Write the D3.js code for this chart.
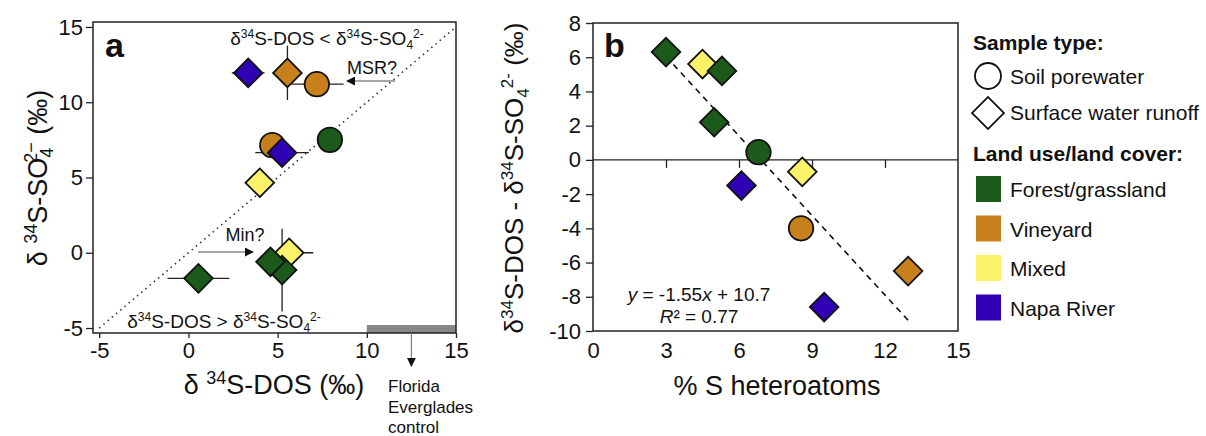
<!DOCTYPE html>
<html>
<head>
<meta charset="utf-8">
<script src="https://cdn.jsdelivr.net/npm/d3@7"></script>
<style>
  body { margin: 0; background: #fff; }
  text { font-family: "Liberation Sans", Arial, sans-serif; fill: #111; }
</style>
</head>
<body>
<div id="chart"></div>
<script>
// panel a data
const aX    = [3.35, 5.55, 7.2, 4.7, 5.25, 7.93, 4.0, 0.56, 5.65, 5.25, 4.6];
const aY    = [11.95, 11.95, 11.2, 7.15, 6.65, 7.5, 4.65, -1.7, 0.0, -1.15, -0.6];
const aXerr = [0.92, 0, 1.5, 0, 1.5, 0, 0, 1.73, 1.35, 0.85, 0];
const aYerr = [0, 1.8, 0, 0, 0, 0, 0, 0, 0, 2.75, 0];
const aType = ['surface', 'surface', 'soil', 'soil', 'surface', 'soil', 'surface', 'surface', 'surface', 'surface', 'surface'];
const aLand = ['napa', 'vineyard', 'vineyard', 'vineyard', 'napa', 'forest', 'mixed', 'forest', 'mixed', 'forest', 'forest'];
const evergladesRange = [10, 15];

// panel b data
const bX    = [3.0, 4.5, 5.3, 4.98, 6.8, 8.6, 6.1, 8.55, 12.95, 9.5];
const bY    = [6.3, 5.6, 5.2, 2.2, 0.45, -0.7, -1.5, -4.0, -6.5, -8.6];
const bType = ['surface', 'surface', 'surface', 'surface', 'soil', 'surface', 'surface', 'soil', 'surface', 'surface'];
const bLand = ['forest', 'mixed', 'forest', 'forest', 'forest', 'mixed', 'napa', 'vineyard', 'vineyard', 'napa'];
const fitSlope = -1.55, fitIntercept = 10.7, fitR2 = 0.77;
const fitRange = [3.0, 12.95];

const aTicks = [-5, 0, 5, 10, 15];
const bXTicks = [0, 3, 6, 9, 12, 15];
const bYTicks = [-10, -8, -6, -4, -2, 0, 2, 4, 6, 8];

const landKeys = ['forest', 'vineyard', 'mixed', 'napa'];
const landNames = ['Forest/grassland', 'Vineyard', 'Mixed', 'Napa River'];
const landColors = ['#1b5a1b', '#c7801b', '#faf36a', '#3000b4'];
const color = d3.scaleOrdinal().domain(landKeys).range(landColors);

const svg = d3.select('#chart').append('svg')
    .attr('width', 1206)
    .attr('height', 436);

// arrow heads
const defs = svg.append('defs');
defs.append('marker')
    .attr('id', 'head')
    .attr('viewBox', '0 0 10 10')
    .attr('refX', 9).attr('refY', 5)
    .attr('markerWidth', 9).attr('markerHeight', 9)
    .attr('markerUnits', 'userSpaceOnUse')
    .attr('orient', 'auto')
    .append('path').attr('d', 'M0,0 L10,5 L0,10 Z').attr('fill', '#111');

const diamond = d3.symbol().type(d3.symbolSquare).size(410);
const disc = d3.symbol().type(d3.symbolCircle).size(470);

function drawMark(g, type, land, x, y) {
    g.append('path')
        .attr('d', type === 'soil' ? disc() : diamond())
        .attr('transform', `translate(${x},${y})` + (type === 'soil' ? '' : ' rotate(45)'))
        .attr('fill', color(land))
        .attr('stroke', '#111')
        .attr('stroke-width', 1.8);
}

// rich text helper: parts = [text, mode, dx] where mode '' | 'sup' | 'sub'
function rich(sel, parts, size) {
    const small = Math.round(size * 0.65);
    let shift = 0;
    parts.forEach(([t, mode, dx]) => {
        const target = mode === 'sup' ? -size * 0.38 : mode === 'sub' ? size * 0.22 : 0;
        sel.append('tspan')
            .attr('dy', target - shift)
            .attr('dx', dx || 0)
            .style('font-size', (mode ? small : size) + 'px')
            .text(t);
        shift = target;
    });
}

function styleAxis(ax) {
    ax.select('.domain').remove();
    ax.selectAll('.tick line').attr('stroke', '#222').attr('stroke-width', 1.3);
    ax.selectAll('.tick text').style('font-size', '22px').attr('fill', '#111')
        .style('font-family', '"Liberation Sans", Arial, sans-serif');
}

// ---------------- panel a ----------------
const xa = d3.scaleLinear().domain([-5.35, 15]).range([93, 456]);
const ya = d3.scaleLinear().domain([-5.33, 15.33]).range([333, 22]);
const ga = svg.append('g');

ga.append('line')
    .attr('x1', xa(-5)).attr('y1', ya(-5))
    .attr('x2', xa(15)).attr('y2', ya(15))
    .attr('stroke', '#333').attr('stroke-width', 1.6)
    .attr('stroke-dasharray', '1.5,4');

ga.append('rect')
    .attr('x', xa(evergladesRange[0])).attr('y', 325)
    .attr('width', xa(evergladesRange[1]) - xa(evergladesRange[0])).attr('height', 8)
    .attr('fill', '#888');

ga.append('rect')
    .attr('x', 93).attr('y', 22).attr('width', 363).attr('height', 311)
    .attr('fill', 'none').attr('stroke', '#222').attr('stroke-width', 1.5);

styleAxis(ga.append('g').attr('transform', 'translate(93,0)')
    .call(d3.axisLeft(ya).tickValues(aTicks).tickFormat(d => String(d)).tickSize(7).tickPadding(3)));
styleAxis(ga.append('g').attr('transform', 'translate(0,333)')
    .call(d3.axisBottom(xa).tickValues(aTicks).tickFormat(d => String(d)).tickSize(5).tickPadding(4)));

// error bars
aX.forEach((x, i) => {
    if (aXerr[i] > 0) ga.append('line')
        .attr('x1', xa(x - aXerr[i])).attr('x2', xa(x + aXerr[i]))
        .attr('y1', ya(aY[i])).attr('y2', ya(aY[i]))
        .attr('stroke', '#222').attr('stroke-width', 1.3);
    if (aYerr[i] > 0) ga.append('line')
        .attr('x1', xa(x)).attr('x2', xa(x))
        .attr('y1', ya(aY[i] - aYerr[i])).attr('y2', ya(aY[i] + aYerr[i]))
        .attr('stroke', '#222').attr('stroke-width', 1.3);
});
aX.forEach((x, i) => drawMark(ga, aType[i], aLand[i], xa(x), ya(aY[i])));

ga.append('text').attr('x', 105).attr('y', 57)
    .style('font-size', '34px').style('font-weight', 'bold').text('a');

rich(ga.append('text').attr('x', 327).attr('y', 45).attr('text-anchor', 'middle'),
    [['δ', ''], ['34', 'sup'], ['S-DOS < δ', ''], ['34', 'sup'], ['S-SO', ''], ['4', 'sub'], ['2-', 'sup']], 19);
rich(ga.append('text').attr('x', 224).attr('y', 328).attr('text-anchor', 'middle'),
    [['δ', ''], ['34', 'sup'], ['S-DOS > δ', ''], ['34', 'sup'], ['S-SO', ''], ['4', 'sub'], ['2-', 'sup']], 19);

// MSR? / Min? annotations
ga.append('text').attr('x', 372).attr('y', 74).attr('text-anchor', 'middle')
    .style('font-size', '18px').text('MSR?');
ga.append('line').attr('x1', 395).attr('y1', 81).attr('x2', 347).attr('y2', 81)
    .attr('stroke', '#888').attr('stroke-width', 1.3).attr('marker-end', 'url(#head)');
ga.append('text').attr('x', 245).attr('y', 241).attr('text-anchor', 'middle')
    .style('font-size', '18px').text('Min?');
ga.append('line').attr('x1', 198).attr('y1', 252).attr('x2', 253).attr('y2', 252)
    .attr('stroke', '#888').attr('stroke-width', 1.3).attr('marker-end', 'url(#head)');

// Everglades control
const evx = xa((evergladesRange[0] + evergladesRange[1]) / 2);
ga.append('line').attr('x1', evx).attr('y1', 333).attr('x2', evx).attr('y2', 366)
    .attr('stroke', '#888').attr('stroke-width', 1.3).attr('marker-end', 'url(#head)');
['Florida', 'Everglades', 'control'].forEach((t, i) => {
    ga.append('text').attr('x', 388).attr('y', 392 + i * 20.5)
        .style('font-size', '17px').text(t);
});

// axis labels a
rich(ga.append('text').attr('x', 274).attr('y', 394).attr('text-anchor', 'middle'),
    [['δ ', ''], ['34', 'sup'], ['S-DOS (‰)', '']], 27);
rich(ga.append('text').attr('transform', 'translate(47,178) rotate(-90)').attr('text-anchor', 'middle'),
    [['δ ', ''], ['34', 'sup'], ['S-SO', ''], ['4', 'sub'], ['2', 'sup', -15], ['−', 'sup'], [' (‰)', '']], 27);

// ---------------- panel b ----------------
const xb = d3.scaleLinear().domain([0, 15]).range([593, 958]);
const yb = d3.scaleLinear().domain([-10, 8]).range([331, 23]);
const gb = svg.append('g');

gb.append('rect')
    .attr('x', 593).attr('y', 23).attr('width', 365).attr('height', 308)
    .attr('fill', 'none').attr('stroke', '#222').attr('stroke-width', 1.5);
gb.append('line')
    .attr('x1', 593).attr('x2', 958).attr('y1', yb(0)).attr('y2', yb(0))
    .attr('stroke', '#222').attr('stroke-width', 1.3);

styleAxis(gb.append('g').attr('transform', 'translate(593,0)')
    .call(d3.axisLeft(yb).tickValues(bYTicks).tickFormat(d => String(d)).tickSize(7).tickPadding(5)));
styleAxis(gb.append('g').attr('transform', 'translate(0,331)')
    .call(d3.axisBottom(xb).tickValues(bXTicks).tickFormat(d => String(d)).tickSize(0).tickPadding(11)));
styleAxis(gb.append('g').attr('transform', `translate(0,${yb(0)})`)
    .call(d3.axisBottom(xb).tickValues(bXTicks.slice(1, -1)).tickSize(8).tickFormat('')));

gb.append('line')
    .attr('x1', xb(fitRange[0])).attr('y1', yb(fitSlope * fitRange[0] + fitIntercept))
    .attr('x2', xb(fitRange[1])).attr('y2', yb(fitSlope * fitRange[1] + fitIntercept))
    .attr('stroke', '#111').attr('stroke-width', 1.6).attr('stroke-dasharray', '6,5');

bX.forEach((x, i) => drawMark(gb, bType[i], bLand[i], xb(x), yb(bY[i])));

gb.append('text').attr('x', 604).attr('y', 57)
    .style('font-size', '34px').style('font-weight', 'bold').text('b');

const eq = gb.append('text').attr('x', 699).attr('y', 301).attr('text-anchor', 'middle').style('font-size', '19px');
eq.append('tspan').style('font-style', 'italic').text('y');
eq.append('tspan').text(` = ${fitSlope}`);
eq.append('tspan').style('font-style', 'italic').text('x');
eq.append('tspan').text(` + ${fitIntercept}`);
const r2 = gb.append('text').attr('x', 699).attr('y', 323).attr('text-anchor', 'middle').style('font-size', '19px');
r2.append('tspan').style('font-style', 'italic').text('R');
r2.append('tspan').text(`² = ${fitR2}`);

gb.append('text').attr('x', 777).attr('y', 395).attr('text-anchor', 'middle')
    .style('font-size', '27px').text('% S heteroatoms');
rich(gb.append('text').attr('transform', 'translate(523,178) rotate(-90)').attr('text-anchor', 'middle'),
    [['δ', ''], ['34', 'sup'], ['S-DOS - δ', ''], ['34', 'sup'], ['S-SO', ''], ['4', 'sub'], ['2-', 'sup'], [' (‰)', '']], 26);

// ---------------- legend ----------------
const lg = svg.append('g');
lg.append('text').attr('x', 973).attr('y', 50).style('font-size', '21px').style('font-weight', 'bold').text('Sample type:');
lg.append('path').attr('d', d3.symbol().type(d3.symbolCircle).size(530)())
    .attr('transform', 'translate(988,76)').attr('fill', '#fff').attr('stroke', '#111').attr('stroke-width', 1.8);
lg.append('text').attr('x', 1010).attr('y', 84).style('font-size', '21px').text('Soil porewater');
lg.append('path').attr('d', d3.symbol().type(d3.symbolSquare).size(510)())
    .attr('transform', 'translate(988,113) rotate(45)').attr('fill', '#fff').attr('stroke', '#111').attr('stroke-width', 1.8);
lg.append('text').attr('x', 1010).attr('y', 120).style('font-size', '21px').text('Surface water runoff');
lg.append('text').attr('x', 973).attr('y', 161).style('font-size', '21px').style('font-weight', 'bold').text('Land use/land cover:');
landKeys.forEach((k, i) => {
    const cy = 189 + i * 39.5;
    lg.append('rect').attr('x', 976).attr('y', cy - 13).attr('width', 25).attr('height', 26)
        .attr('fill', color(k));
    lg.append('text').attr('x', 1010).attr('y', cy + 8).style('font-size', '21px').text(landNames[i]);
});
</script>
</body>
</html>
